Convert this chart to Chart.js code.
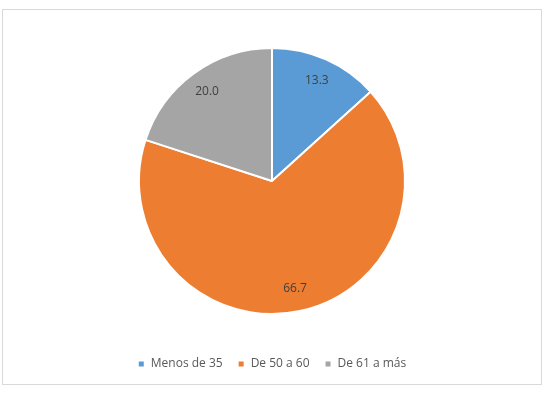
<!DOCTYPE html>
<html>
<head>
<meta charset="utf-8">
<script src="https://cdn.jsdelivr.net/npm/chart.js@4/dist/chart.umd.min.js"></script>
<style>
  html, body { margin: 0; padding: 0; background: #fff; }
  #wrap { position: relative; width: 547px; height: 400px; }
  #marco { position: absolute; left: 2px; top: 9px; width: 538px; height: 374px; border: 1px solid #d9d9d9; }
  canvas { position: absolute; left: 0; top: 0; }
</style>
</head>
<body>
<div id="wrap">
  <div id="marco"></div>
  <canvas id="grafico" width="547" height="400"></canvas>
</div>
<script>
const categorias = ['Menos de 35', 'De 50 a 60', 'De 61 a más'];
const valores = [13.3, 66.7, 20.0];
const colores = ['#5B9BD5', '#ED7D31', '#A5A5A5'];

// etiquetas de datos dentro de cada porción
const etiquetas = {
  id: 'etiquetas',
  afterDatasetsDraw(chart) {
    const ctx = chart.ctx;
    const meta = chart.getDatasetMeta(0);
    ctx.save();
    ctx.font = '12px "Open Sans", sans-serif';
    ctx.fillStyle = '#404040';
    ctx.textAlign = 'center';
    ctx.textBaseline = 'middle';
    meta.data.forEach((arc, i) => {
      const p = arc.getProps(['x', 'y', 'startAngle', 'endAngle', 'outerRadius'], true);
      const a = (p.startAngle + p.endAngle) / 2;
      const r = p.outerRadius * 0.83;
      ctx.fillText(valores[i].toFixed(1), p.x + Math.cos(a) * r, p.y + Math.sin(a) * r);
    });
    ctx.restore();
  }
};

new Chart(document.getElementById('grafico'), {
  type: 'pie',
  data: {
    labels: categorias,
    datasets: [{ data: valores, backgroundColor: colores, borderColor: '#fff', borderWidth: 2, radius: 133 }]
  },
  options: {
    responsive: false,
    animation: false,
    layout: { padding: { left: 0, right: 3, top: 19, bottom: 20 } },
    plugins: {
      tooltip: { enabled: false },
      legend: {
        position: 'bottom',
        labels: {
          boxWidth: 7, boxHeight: 7, padding: 15,
          color: '#595959',
          font: { family: '"Open Sans", sans-serif', size: 12 }
        }
      }
    }
  },
  plugins: [etiquetas]
});
</script>
</body>
</html>
